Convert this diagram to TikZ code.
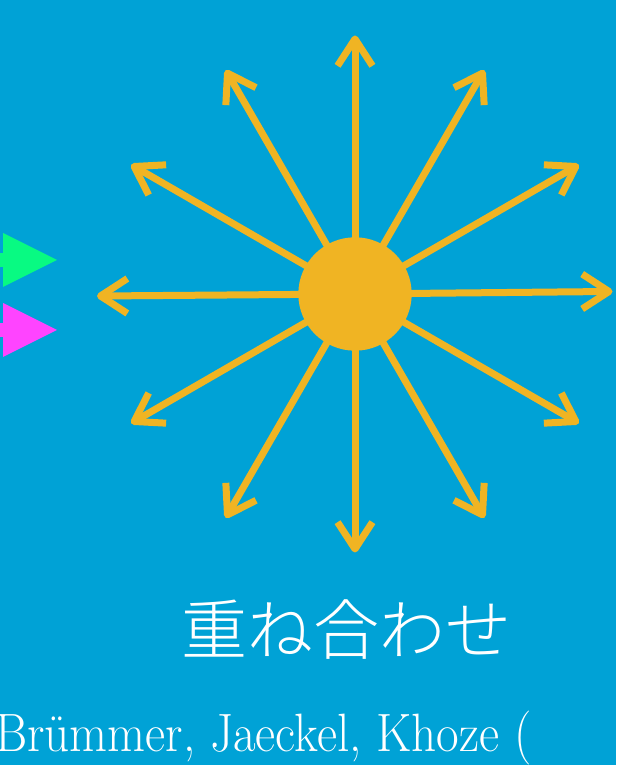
\documentclass[tikz,border=0pt]{standalone}
\usepackage{fontspec}
\newfontfamily\cjk{Noto Sans CJK JP Light}
\usetikzlibrary{calc}
\definecolor{bg}{RGB}{0,162,214}
\definecolor{sun}{RGB}{240,180,35}
\definecolor{grn}{RGB}{8,250,130}
\definecolor{mag}{RGB}{255,68,255}
\begin{document}
\begin{tikzpicture}[x=1pt,y=1pt,
  ray/.style={draw=sun, line width=7pt, line cap=butt},
  barb/.style={draw=sun, line width=7pt, line cap=butt, line join=round},
  label/.style={text=white, inner sep=0pt}]
\useasboundingbox (0,0) rectangle (616,765);
\clip (0,0) rectangle (616,765);
\fill[bg] (0,0) rectangle (616,765);
% sun centre and ray tips
\coordinate (c) at (355,471);
\foreach \a in {30,60,...,330}{
  \coordinate (t\a) at ($(c)+(\a:255)$);
}
\coordinate (t0) at (609,473.5);
\coordinate (t180) at (100.5,469);
\foreach \a in {0,30,...,330}{
  \draw[ray] (c) -- (t\a);
  \draw[barb] ($(t\a)+({\a+180-33}:32)$) -- (t\a) -- ($(t\a)+({\a+180+33}:32)$);
}
\fill[sun] (c) circle (56.7);
% left triangles
\fill[grn] (-5,498) rectangle (4,512);
\fill[grn] (3,532) -- (57,505) -- (3,478) -- cycle;
\fill[mag] (-5,428) rectangle (4,442);
\fill[mag] (3,462) -- (57,435) -- (3,408) -- cycle;
% texts
\node[label, font=\cjk\fontsize{66}{66}\selectfont] (title) at (346,135) {重ね合わせ};
\node[label, anchor=base west, font=\fontsize{54}{54}\selectfont] (cite) at (-5,13)
  {\scalebox{0.91}[1]{Brümmer, Jaeckel, Khoze (}};
\end{tikzpicture}
\end{document}
